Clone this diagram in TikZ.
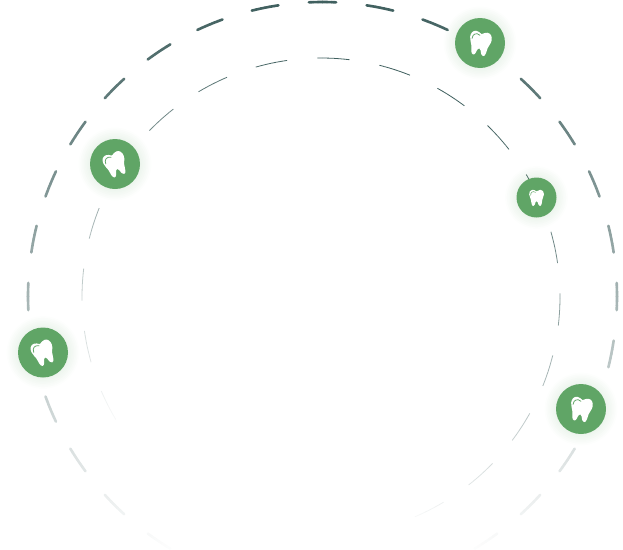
\documentclass[tikz,border=0pt]{standalone}
\definecolor{dashc}{HTML}{3F5F5E}
\definecolor{discg}{HTML}{60A566}
\definecolor{glowg}{HTML}{60A566}
\tikzset{
  x=1pt,y=-1pt,
  outerdash/.style={line width=2.6pt,line cap=round},
  innerdash/.style={line width=0.8pt,line cap=butt},
  toothdisc/.style={circle,fill=discg,draw=none,inner sep=0pt},
  toothbody/.style={fill=white,draw=none},
  pics/tooth/.style n args={2}{code={
    \begin{scope}[rotate=#1,scale=#2]
      \path[toothbody] (0,-9)
        .. controls (-2,-10.2) and (-4,-11.6) .. (-6,-11.4)
        .. controls (-9.4,-11) and (-11,-8) .. (-10.8,-4.5)
        .. controls (-10.6,-1) and (-8.8,0.5) .. (-8.2,3.5)
        .. controls (-7.6,6.5) and (-7.4,12.5) .. (-4.8,12.5)
        .. controls (-2.6,12.5) and (-2.4,9) .. (-1.4,6.8)
        .. controls (-1,5.8) and (-0.4,5.4) .. (0.2,5.4)
        .. controls (0.8,5.4) and (1.4,6) .. (1.8,7)
        .. controls (2.8,9.5) and (3,12.5) .. (5.2,12.5)
        .. controls (7.8,12.5) and (7.9,6.5) .. (8.5,3.5)
        .. controls (9.1,0.5) and (11,-1) .. (11,-4.8)
        .. controls (11,-8.5) and (8.9,-11.4) .. (5.6,-11.4)
        .. controls (3.5,-11.4) and (2,-10) .. (0,-9) -- cycle;
      \draw[line width=#2*0.75pt,draw=discg,line cap=round] (-8.6,-3.2)
        .. controls (-8.9,-7.5) and (-5.5,-10.2) .. (-1.4,-7.6);
    \end{scope}
  }}
}
\begin{document}
\begin{tikzpicture}
\useasboundingbox (0,0) rectangle (623,549);
% outer ring
\foreach \k in {-13,...,13}{
  \foreach \s in {0,...,5}{
    \pgfmathsetmacro\aa{90-11.25*\k-2.65+\s*0.883}
    \pgfmathsetmacro\ab{\aa+0.883}
    \pgfmathsetmacro\py{296.5-294.5*sin(\aa+0.44)}
    \pgfmathsetmacro\p{max(0,min(100,(1-\py/555)*100))}
    \draw[outerdash,color=dashc!\p!white]
      ({322.5+294.5*cos(\aa)},{296.5-294.5*sin(\aa)}) -- ({322.5+294.5*cos(\ab)},{296.5-294.5*sin(\ab)});
  }
}
% inner ring
\foreach \k in {0,...,23}{
  \foreach \s in {0,...,5}{
    \pgfmathsetmacro\aa{87-15*\k-3.85+\s*1.283}
    \pgfmathsetmacro\ab{\aa+1.283}
    \pgfmathsetmacro\px{321+239*cos(\aa+0.64)}
    \pgfmathsetmacro\py{297-239*sin(\aa+0.64)}
    \pgfmathsetmacro\p{max(0,min(100,(399-\py+0.327*\px)/449*100))}
    \draw[innerdash,color=dashc!\p!white]
      ({321+239*cos(\aa)},{297-239*sin(\aa)}) -- ({321+239*cos(\ab)},{297-239*sin(\ab)});
  }
}
% glows
\foreach \cx/\cy/\r in {480/43/25,115/164/25,536.5/197.5/20,43/352.5/25,581/409/25}{
  \foreach \g in {1,...,7}{
    \fill[glowg,opacity=0.017] (\cx,\cy) circle ({\r+1.6*\g});
  }
}
% discs and teeth
\node[toothdisc,minimum size=50pt] (na) at (480,43) {};
\node[toothdisc,minimum size=50pt] (nb) at (115,164) {};
\node[toothdisc,minimum size=40pt] (nc) at (536.5,197.5) {};
\node[toothdisc,minimum size=50pt] (nd) at (43,352.5) {};
\node[toothdisc,minimum size=50pt] (ne) at (581,409) {};
\pic at (na.center) {tooth={-10}{1}};
\pic at (nb.center) {tooth={20}{1}};
\pic at (nc.center) {tooth={0}{0.68}};
\pic at (nd.center) {tooth={20}{1}};
\pic at (ne.center) {tooth={-10}{1}};
\end{tikzpicture}
\end{document}
